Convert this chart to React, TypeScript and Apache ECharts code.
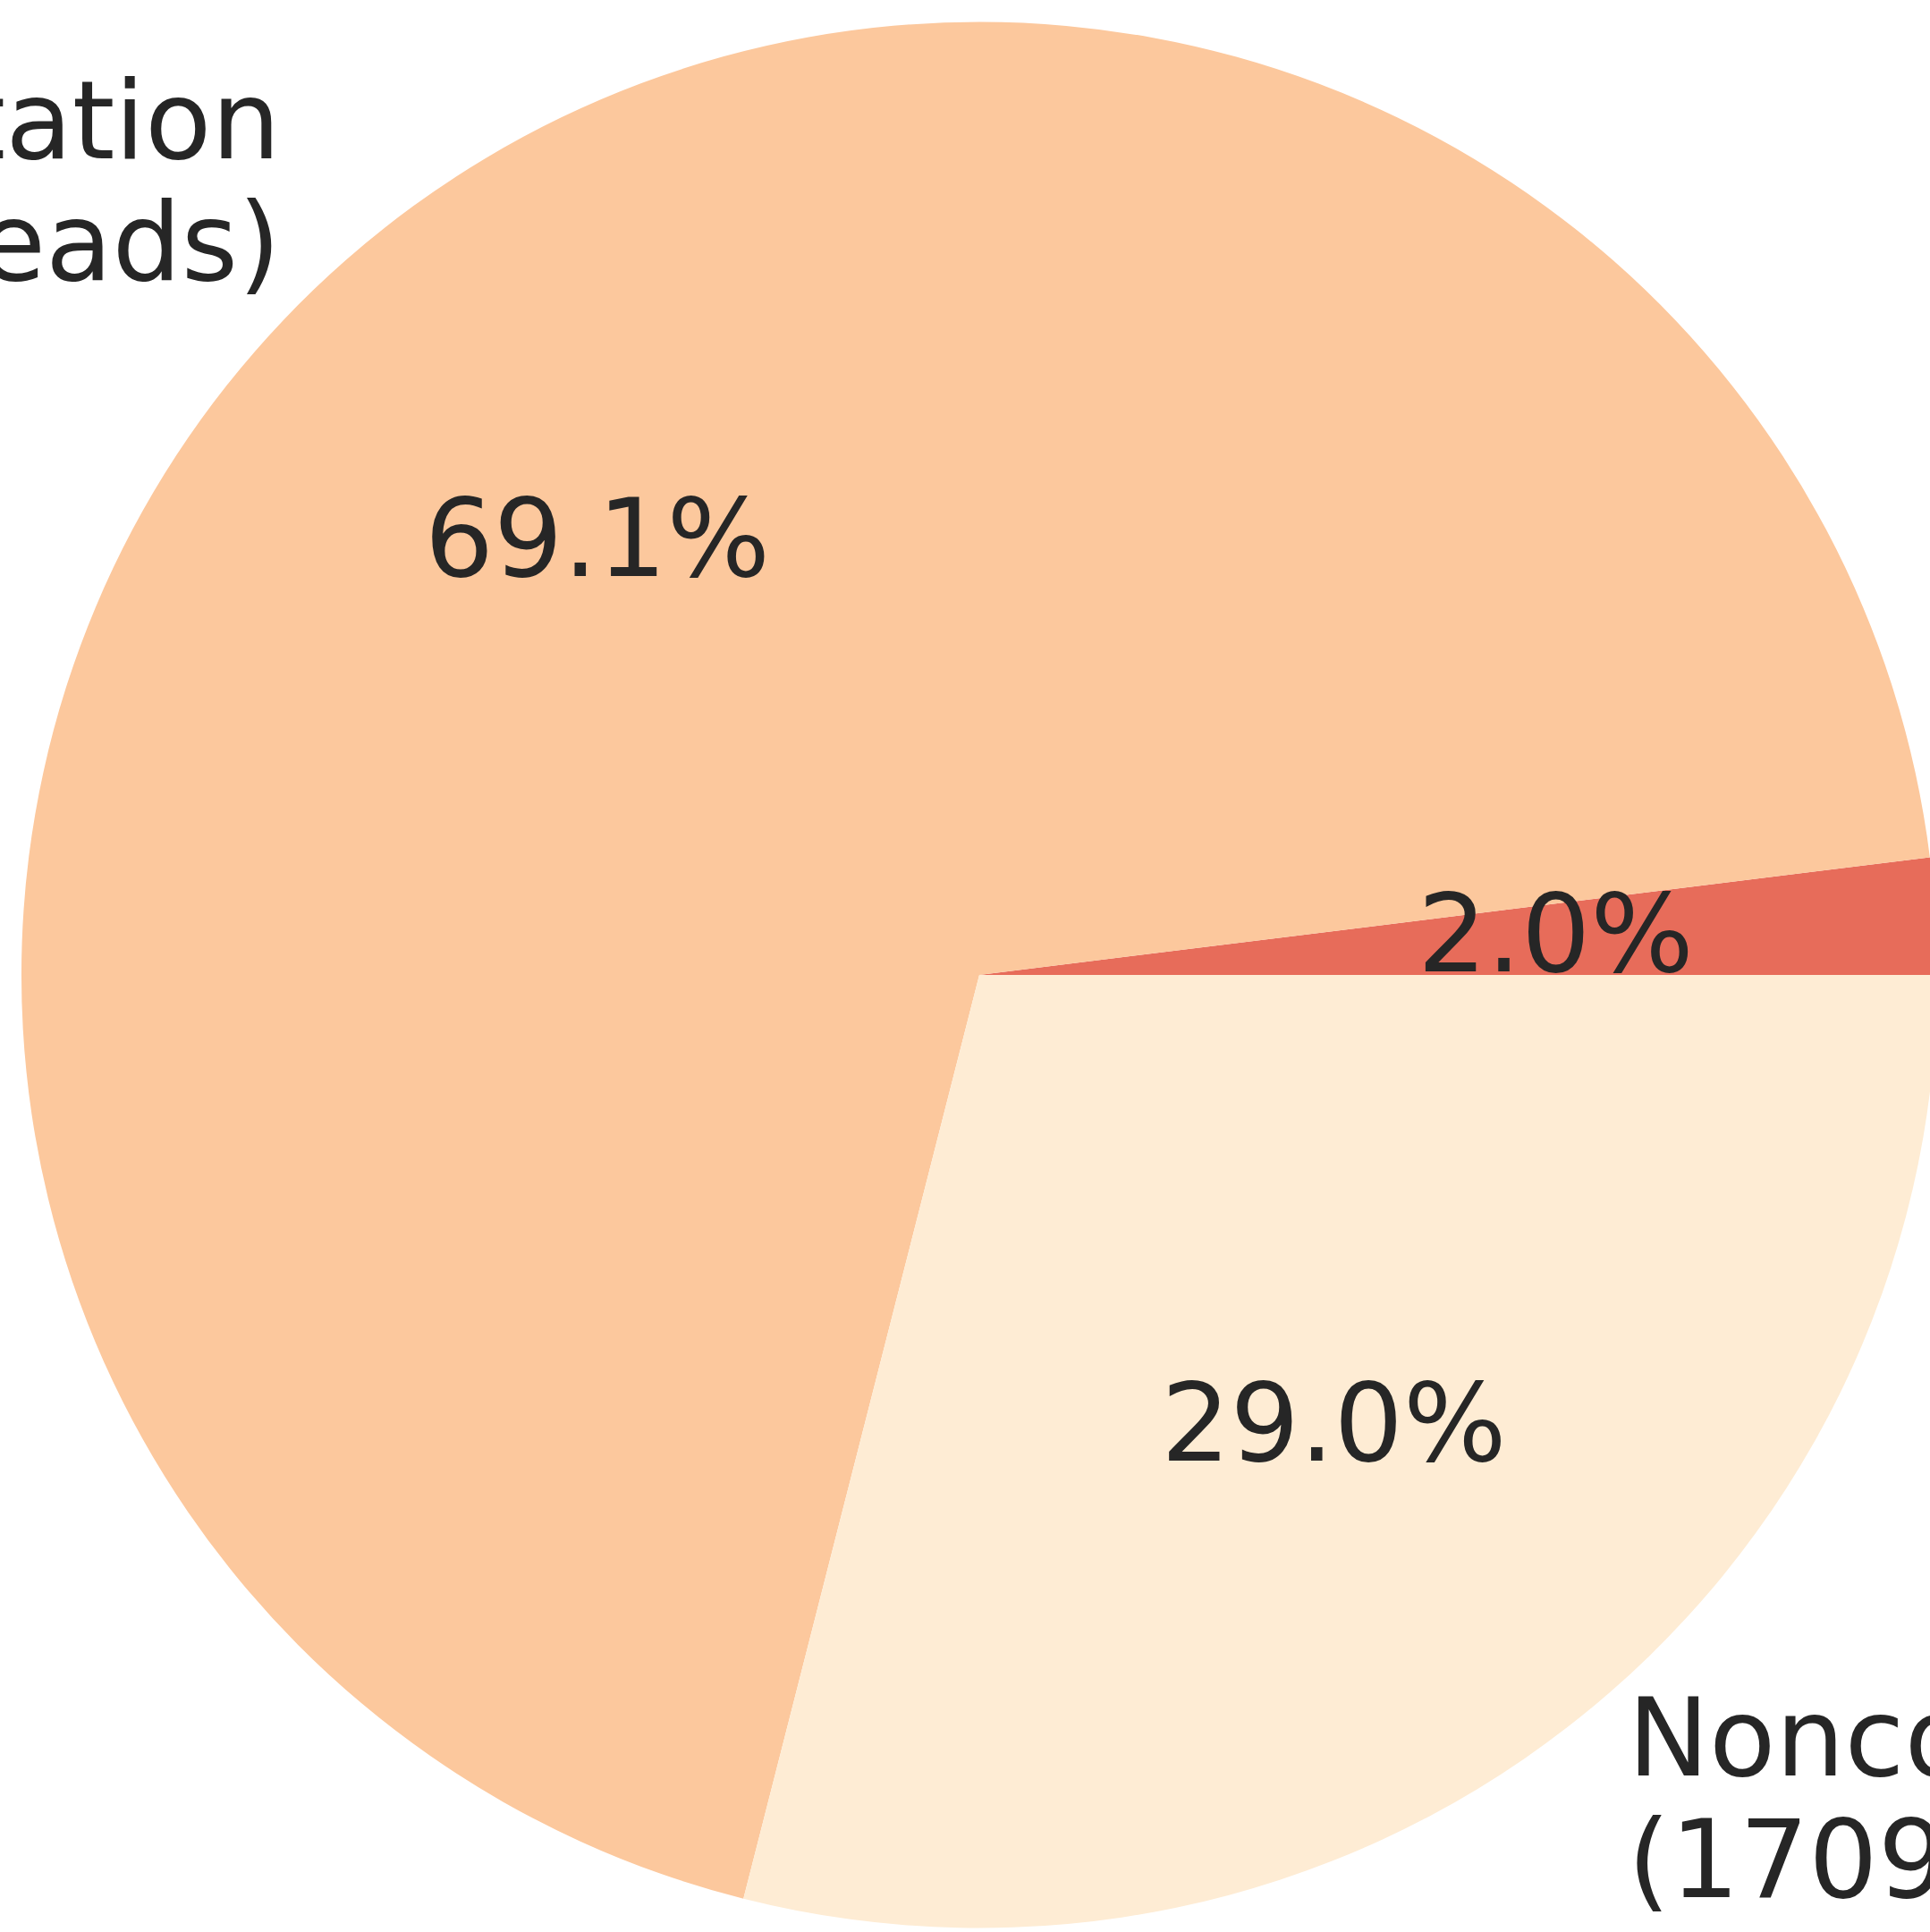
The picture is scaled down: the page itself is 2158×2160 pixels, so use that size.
import React, { useEffect, useRef } from "react";
import * as echarts from "echarts";

const categories = ["Unannotated", "Annotation", "Noncoding"];
const readCounts = [116283, 4076971, 1709412];
const sliceColors = ["#e76c5a", "#fcc89d", "#feecd4"];

const WIDTH = 2158;
const HEIGHT = 2160;
const CENTER = [1095, 1090];
const RADIUS = 1065.5;
const STRETCH_X = 1.0052; // the reference pie is very slightly wider than tall
const FONT = "'DejaVu Sans', 'Liberation Sans', sans-serif";
const TEXT_COLOR = "#262626";
const FONT_SIZE = 121;
const TEXT_DY = -6;

export default function App() {
  const ref = useRef<HTMLDivElement>(null);

  useEffect(() => {
    if (!ref.current) return;
    const chart = echarts.init(ref.current, null, { renderer: "svg" });
    const total = readCounts.reduce((a, b) => a + b, 0);

    // mid angles (counter-clockwise from 3 o'clock), used to align outer labels
    const midAngles: number[] = [];
    let acc = 0;
    readCounts.forEach((v) => {
      const frac = v / total;
      midAngles.push((acc + frac / 2) * Math.PI * 2);
      acc += frac;
    });

    const baseData = categories.map((name, i) => ({ name, value: readCounts[i] }));
    const clear = "rgba(0,0,0,0)";

    chart.setOption({
      animation: false,
      backgroundColor: "#ffffff",
      series: [
        {
          type: "pie",
          center: CENTER,
          radius: [0, RADIUS],
          startAngle: 0,
          clockwise: false,
          silent: true,
          avoidLabelOverlap: false,
          label: { show: false },
          labelLine: { show: false },
          emphasis: { disabled: true },
          data: baseData.map((d, i) => ({
            ...d,
            itemStyle: { color: sliceColors[i], borderWidth: 0 },
          })),
        },
        {
          type: "pie",
          center: CENTER,
          radius: [0, RADIUS * 1.2],
          startAngle: 0,
          clockwise: false,
          silent: true,
          avoidLabelOverlap: false,
          itemStyle: { color: clear, borderWidth: 0 },
          emphasis: { disabled: true },
          labelLine: { show: false },
          label: {
            show: true,
            position: "inside",
            color: TEXT_COLOR,
            fontFamily: FONT,
            fontSize: FONT_SIZE,
            textBorderWidth: 0,
            formatter: (p: any) => ((p.value / total) * 100).toFixed(1) + "%",
          },
          labelLayout: () => ({ dy: TEXT_DY, align: "center", verticalAlign: "middle" }),
          data: baseData,
        },
        {
          type: "pie",
          center: CENTER,
          radius: [0, RADIUS * 2.2],
          startAngle: 0,
          clockwise: false,
          silent: true,
          avoidLabelOverlap: false,
          itemStyle: { color: clear, borderWidth: 0 },
          emphasis: { disabled: true },
          labelLine: { show: false },
          label: {
            show: true,
            position: "inside",
            color: TEXT_COLOR,
            fontFamily: FONT,
            fontSize: FONT_SIZE,
            lineHeight: 136,
            textBorderWidth: 0,
            formatter: (p: any) => `${p.name}\n(${p.value} reads)`,
          },
          labelLayout: (params: any) => ({
            align: Math.cos(midAngles[params.dataIndex]) >= 0 ? "left" : "right",
            verticalAlign: "middle",
            dy: TEXT_DY,
          }),
          data: baseData,
        },
      ],
    });

    return () => chart.dispose();
  }, []);

  return (
    <div style={{ position: "absolute", left: 0, top: 0, width: WIDTH, height: HEIGHT, overflow: "hidden" }}>
      <div
        ref={ref}
        style={{
          width: WIDTH,
          height: HEIGHT,
          transform: `scaleX(${STRETCH_X})`,
          transformOrigin: `${CENTER[0]}px 0px`,
        }}
      />
    </div>
  );
}
